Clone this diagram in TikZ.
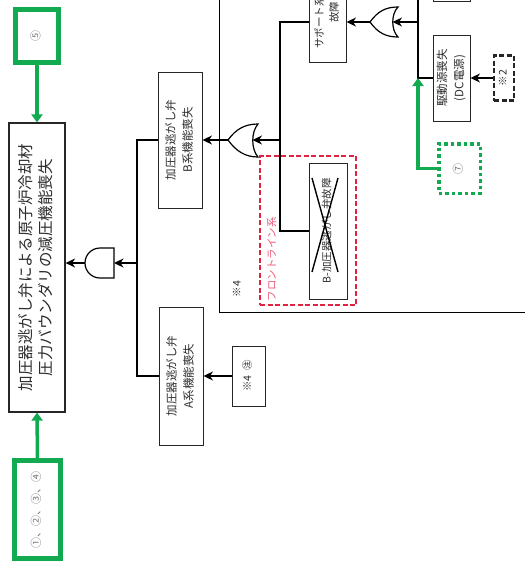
\documentclass[tikz,border=0pt]{standalone}
\usepackage{fontspec}
\usepackage{graphicx}
\newfontfamily\jp{Noto Sans CJK JP}
\usetikzlibrary{arrows.meta}
\definecolor{grn}{RGB}{18,170,80}
\definecolor{redline}{RGB}{225,35,65}
\definecolor{redtext}{RGB}{235,90,120}
\definecolor{txt}{RGB}{45,45,45}
\definecolor{cnum}{RGB}{120,120,120}
\newcommand\vlines[3]{\rotatebox{90}{\fontsize{#1}{#2}\selectfont\begin{tabular}{@{}c@{}}#3\end{tabular}}}
\begin{document}
\begin{tikzpicture}[x=1pt,y=-1pt,
  box/.style={draw=black!85,line width=1pt,inner sep=0pt,font=\jp,text=txt},
  gbox/.style={draw=grn,line width=4.5pt,inner sep=0pt,font=\jp,text=cnum},
  arr/.style={line width=1.7pt,-{Stealth[length=9.5pt,width=9pt,inset=3pt]}},
  garr/.style={draw=grn,line width=3.5pt,-{Triangle[length=8pt,width=11pt]}},
  wire/.style={line width=1.1pt},
  gate/.style={draw,line width=1.2pt,fill=white},
]
\useasboundingbox (0,0) rectangle (525,563);
\fill[white] (0,0) rectangle (525,563);
\begin{scope}
\clip (0,0) rectangle (525,563);

% big frame (※4)
\draw[line width=1pt] (219,-10) rectangle (535,312);
\node[font=\jp,text=txt,inner sep=0pt] (n4lab) at (238,289) {\vlines{10.5}{13}{※4}};

% top event
\node[box,line width=1.2pt,minimum width=56,minimum height=289] (main) at (37,267.5)
  {\vlines{15.5}{20}{加圧器逃がし弁による原子炉冷却材\\圧力バウンダリの減圧機能喪失}};

% green transfer boxes
\node[gbox,minimum width=43,minimum height=53] (g5) at (37,36) {\vlines{11}{13}{⑤}};
\node[gbox,minimum width=46,minimum height=98] (g1234) at (37.5,509.5) {\vlines{11}{13}{①、②、③、④}};
\draw[garr] (g5.south) -- (main.north);
\draw[garr] (g1234.north) -- (main.south);

% AND gate
\draw[gate] (114,248) -- (100,248) arc[start angle=270,end angle=90,radius=15] -- (114,278) -- cycle;
\coordinate (andIn) at (114,263);
\coordinate (andOut) at (85,263);
\draw[arr] (andOut) -- (andOut -| main.east);

% A / B boxes
\node[box,minimum width=44,minimum height=136] (B) at (180,140)
  {\vlines{11.5}{17}{加圧器逃がし弁\\B系機能喪失}};
\node[box,minimum width=44,minimum height=138] (A) at (181,376)
  {\vlines{11.5}{17}{加圧器逃がし弁\\A系機能喪失}};
\node[box,minimum width=33,minimum height=60] (n4) at (248.5,376) {\vlines{10.5}{13}{※4\ \ ㊟}};
\coordinate (jA) at (137,140);
\draw[wire] (B.west) -- (jA) -- (137,376) -- (A.west);
\draw[arr] (137,263) -- (andIn);
\draw[arr] (n4.west) -- (A.east);

% OR gate B
\draw[gate] (228,140) .. controls (236,129) and (245,124) .. (258,124)
  .. controls (251,132) and (251,149) .. (258,157)
  .. controls (245,157) and (236,151) .. (228,140) -- cycle;
\coordinate (orBin) at (252.5,140);
\coordinate (orBout) at (228,140);
\draw[arr] (orBout) -- (B.east);

% front line red dashed group
\node[draw=redline,line width=2pt,dash pattern=on 5pt off 2.5pt,minimum width=96,minimum height=149,inner sep=0pt] (front) at (308,230.5) {};
\node[font=\jp,text=redtext,inner sep=0pt] (frontlab) at (273,259) {\vlines{10.5}{13}{フロントライン系}};
\node[box,minimum width=38,minimum height=136] (X) at (328,231) {\vlines{10.5}{13}{B-加圧器逃がし弁故障}};
\draw[line width=1.4pt] (312,178) -- (338,272) (338,178) -- (312,272);

% support system box
\node[box,minimum width=37,minimum height=100] (sup) at (327.5,12) {\vlines{10.5}{15}{サポート系設備\\故障}};
\coordinate (jS) at (280,22);
\draw[wire] (sup.west |- jS) -- (jS) -- (280,231) -- (X.west);
\draw[arr] (280,140) -- (orBin);

% OR gate top
\draw[gate] (370,22) .. controls (378,11) and (386,7) .. (398,7)
  .. controls (391,14) and (391,30) .. (398,37)
  .. controls (386,37) and (378,33) .. (370,22) -- cycle;
\coordinate (orTin) at (392.5,22);
\coordinate (orTout) at (370,22);
\draw[arr] (orTout) -- (orTout -| sup.east);

% right column
\node[box,minimum width=37,minimum height=30] (topbox) at (451.5,-14) {};
\node[box,minimum width=37,minimum height=86] (drv) at (451.5,78)
  {\vlines{11.5}{17}{駆動源喪失\\(DC電源)}};
\node[draw=black!85,line width=2.5pt,dash pattern=on 5pt off 2.5pt,minimum width=20,minimum height=45,inner sep=0pt,font=\jp,text=txt] (n2) at (504,78) {\vlines{10.5}{13}{※2}};
\node[draw=grn,line width=3.5pt,dash pattern=on 3.5pt off 3pt,minimum width=41.5,minimum height=49.5,inner sep=0pt,font=\jp,text=cnum] (g7) at (459.5,168.5) {\vlines{11}{13}{⑦}};
\coordinate (jT) at (418,-5);
\coordinate (jD) at (418,78);
\draw[wire] (jT) -- (jD) -- (drv.west);
\draw[arr] (418,22) -- (orTin);
\draw[arr] (n2.west) -- (drv.east);
\draw[garr] (g7.west) -| (jD);
\end{scope}
\end{tikzpicture}
\end{document}
